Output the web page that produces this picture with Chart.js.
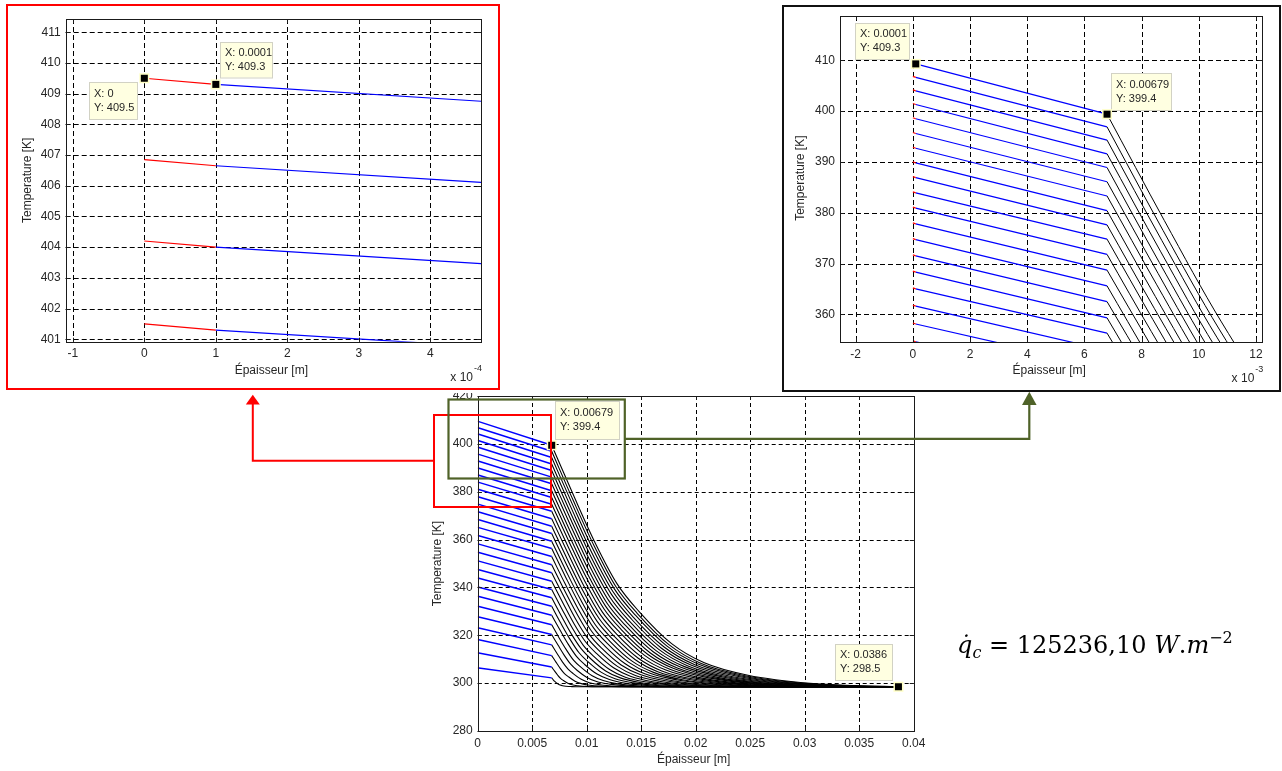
<!DOCTYPE html>
<html><head><meta charset="utf-8">
<script src="https://cdn.jsdelivr.net/npm/chart.js@4.4.0/dist/chart.umd.min.js"></script>
<style>
html,body{margin:0;padding:0;background:#fff;}
body{width:1282px;height:771px;position:relative;overflow:hidden;font-family:'Liberation Sans',Arial,sans-serif;}
canvas{position:absolute;background:#fff;}
#cMain{left:400px;top:380px;}
#cLeft{left:0;top:0;}
#cRight{left:780px;top:0;}
svg{position:absolute;left:0;top:0;}
#eq{position:absolute;left:957px;top:626px;font-family:'DejaVu Serif',serif;font-size:24px;line-height:24px;color:#000;white-space:nowrap;}
#eq .v{font-style:italic;}
#eq sub{font-size:16px;vertical-align:-5px;}
#eq sup{font-size:16px;vertical-align:10px;}
</style></head>
<body>
<canvas id="cMain" width="540" height="391"></canvas>
<canvas id="cLeft" width="500" height="393"></canvas>
<canvas id="cRight" width="502" height="395"></canvas>
<svg width="1282" height="771">
  <rect x="7" y="5" width="492" height="384" fill="none" stroke="#ff0000" stroke-width="2"/>
  <rect x="783" y="6" width="497" height="385" fill="none" stroke="#111" stroke-width="2"/>
  <rect x="434" y="415" width="117" height="92" fill="none" stroke="#ff0000" stroke-width="2"/>
  <rect x="448.5" y="399.5" width="176.3" height="79" fill="none" stroke="#4f6228" stroke-width="2.2"/>
  <polyline points="434,460.7 252.8,460.7 252.8,403" fill="none" stroke="#ff0000" stroke-width="2"/>
  <polygon points="252.8,394.7 245.8,404.5 259.8,404.5" fill="#ff0000"/>
  <polyline points="625,438.8 1029.3,438.8 1029.3,404" fill="none" stroke="#4f6228" stroke-width="2.2"/>
  <polygon points="1029.3,391.7 1022,405 1036.6,405" fill="#4f6228"/>
</svg>
<div id="eq"><span class="v">q&#775;</span><sub class="v">c</sub> = 125236,10 <span class="v">W</span>.<span class="v">m</span><sup>&#8722;2</sup></div>
<script>
// ---- data ----
const layerX = 0.0001;      // end of red layer [m]
const interfaceX = 0.00679; // end of blue layer [m]

// temperature at x = 0 for each curve [K]
const surfaceT = [409.5, 406.85, 404.2, 401.5, 398.7, 395.8, 392.9, 390.0, 387.1, 384.1,
  381.1, 378.0, 374.9, 371.7, 368.5, 365.2, 361.8, 358.3, 354.8, 351.2,
  347.6, 344.0, 340.3, 336.4, 332.2, 327.8, 323.2, 318.2, 312.7, 306.4];
// temperature at x = 0.0001
const layerT = [409.3, 406.65, 404.0, 401.3, 398.5, 395.6, 392.7, 389.8, 386.9, 383.9,
  380.9, 377.8, 374.7, 371.5, 368.3, 365.0, 361.6, 358.1, 354.6, 351.0,
  347.4, 343.8, 340.1, 336.2, 332.0, 327.6, 323.05, 318.1, 312.6, 306.3];
// temperature at x = 0.00679
const interfaceT = [399.4, 396.9, 394.3, 391.6, 388.9, 386.1, 383.3, 380.4, 377.6, 374.8,
  371.8, 368.7, 365.6, 362.5, 359.3, 356.3, 352.9, 349.5, 346.1, 342.6,
  339.1, 335.7, 332.1, 328.4, 324.4, 320.3, 316.0, 311.5, 306.7, 302.2];
// black part: positions [mm] and temperatures [K]
const tailXmm = [
  [8.79,10.79,12.79,14.79,17.79,20.79,24.79,30.79,34.7,38.6],
  [8.75,10.71,12.67,14.63,17.57,20.51,24.43,30.31,37.96,38.6],
  [8.71,10.63,12.55,14.47,17.34,20.22,24.06,29.82,37.30,38.6],
  [8.67,10.54,12.42,14.29,17.10,19.92,23.67,29.29,36.61,38.6],
  [8.62,10.45,12.29,14.12,16.86,19.61,23.28,28.77,35.91,38.6],
  [8.58,10.36,12.15,13.94,16.61,19.29,22.87,28.22,35.19,38.6],
  [8.53,10.27,12.01,13.75,16.36,18.97,22.45,27.67,34.46,38.6],
  [8.48,10.18,11.87,13.56,16.10,18.64,22.02,27.10,33.70,38.6],
  [8.44,10.08,11.73,13.37,15.84,18.31,21.60,26.54,32.96,38.6],
  [8.39,9.99,11.59,13.19,15.59,17.99,21.18,25.98,32.22,38.6],
  [8.34,9.89,11.44,12.99,15.31,17.63,20.73,25.38,31.42,38.6],
  [8.29,9.78,11.28,12.77,15.02,17.26,20.26,24.74,30.58,38.6],
  [8.23,9.68,11.12,12.56,14.73,16.89,19.78,24.11,29.73,38.6],
  [8.18,9.57,10.96,12.35,14.43,16.52,19.30,23.46,28.88,38.6],
  [8.12,9.46,10.79,12.13,14.13,16.13,18.79,22.79,28.00,38.6],
  [8.07,9.35,10.63,11.91,13.83,15.75,18.32,22.16,27.15,38.6],
  [8.01,9.23,10.45,11.67,13.50,15.33,17.77,21.43,26.19,38.6],
  [7.95,9.11,10.27,11.42,13.16,14.90,17.22,20.69,25.21,38.6],
  [7.89,8.98,10.08,11.18,12.82,14.47,16.66,19.95,24.23,38.6],
  [7.82,8.85,9.89,10.92,12.46,14.01,16.07,19.17,23.19,38.6],
  [7.76,8.72,9.69,10.65,12.10,13.55,15.48,18.38,22.14,38.6],
  [7.69,8.59,9.49,10.39,11.74,13.09,14.89,17.59,21.10,38.6],
  [7.62,8.45,9.28,10.11,11.35,12.60,14.26,16.75,19.98,38.6],
  [7.55,8.30,9.06,9.81,10.95,12.08,13.59,15.86,18.81,38.6],
  [7.46,8.14,8.81,9.49,10.50,11.51,12.86,14.88,17.51,38.6],
  [7.38,7.96,8.55,9.14,10.02,10.90,12.08,13.84,16.13,38.6],
  [7.28,7.77,8.27,8.76,9.50,10.24,11.22,12.70,14.62,38.6],
  [7.18,7.57,7.96,8.34,8.93,9.51,10.28,11.45,12.96,38.6],
  [7.06,7.33,7.60,7.86,8.27,8.67,9.21,10.01,11.06,38.6],
  [6.93,7.07,7.22,7.36,7.57,7.79,8.07,8.50,9.05,38.6]
];
const tailT = [
  [378.5,358.5,341.5,330.0,316.5,308.5,303.3,299.8,299.0,298.5],
  [376.5,357.1,340.4,329.2,316.0,308.2,303.2,299.8,298.5,298.5],
  [374.5,355.5,339.3,328.4,315.6,308.0,303.1,299.7,298.5,298.5],
  [372.3,353.9,338.2,327.5,315.1,307.7,303.0,299.7,298.5,298.5],
  [370.2,352.3,337.0,326.7,314.6,307.5,302.8,299.7,298.5,298.5],
  [368.0,350.6,335.8,325.8,314.1,307.2,302.7,299.6,298.5,298.5],
  [365.8,349.0,334.6,325.0,313.6,306.9,302.6,299.6,298.5,298.5],
  [363.5,347.2,333.4,324.1,313.1,306.6,302.4,299.6,298.5,298.5],
  [361.2,345.6,332.2,323.2,312.6,306.3,302.3,299.5,298.5,298.5],
  [359.0,343.9,331.0,322.3,312.1,306.1,302.2,299.5,298.5,298.5],
  [356.6,342.1,329.7,321.4,311.6,305.8,302.0,299.5,298.5,298.5],
  [354.2,340.3,328.4,320.4,311.0,305.5,301.9,299.4,298.5,298.5],
  [351.7,338.4,327.1,319.4,310.4,305.1,301.7,299.4,298.5,298.5],
  [349.3,336.6,325.8,318.5,309.9,304.8,301.6,299.3,298.5,298.5],
  [346.7,334.7,324.4,317.5,309.3,304.5,301.4,299.3,298.5,298.5],
  [344.3,332.9,323.1,316.5,308.8,304.2,301.3,299.3,298.5,298.5],
  [341.6,330.9,321.7,315.5,308.2,303.9,301.1,299.2,298.5,298.5],
  [338.9,328.9,320.2,314.4,307.6,303.6,301.0,299.2,298.5,298.5],
  [336.3,326.8,318.8,313.4,307.0,303.2,300.8,299.1,298.5,298.5],
  [333.5,324.7,317.3,312.3,306.4,302.9,300.6,299.1,298.5,298.5],
  [330.7,322.7,315.8,311.2,305.7,302.5,300.5,299.0,298.5,298.5],
  [328.0,320.6,314.4,310.1,305.1,302.2,300.3,299.0,298.5,298.5],
  [325.1,318.5,312.8,309.0,304.5,301.8,300.1,298.9,298.5,298.5],
  [322.2,316.3,311.2,307.8,303.8,301.5,299.9,298.9,298.5,298.5],
  [319.0,313.9,309.5,306.6,303.1,301.1,299.7,298.8,298.5,298.5],
  [315.8,311.5,307.8,305.3,302.4,300.7,299.6,298.8,298.5,298.5],
  [312.4,308.9,306.0,304.0,301.6,300.2,299.3,298.7,298.5,298.5],
  [308.8,306.2,304.0,302.6,300.8,299.8,299.1,298.7,298.5,298.5],
  [305.0,303.4,302.0,301.1,300.0,299.3,298.9,298.6,298.5,298.5],
  [301.4,300.7,300.1,299.7,299.2,298.9,298.7,298.6,298.5,298.5]
];

// tick values and labels
const mainXTicks = [0, 0.005, 0.01, 0.015, 0.02, 0.025, 0.03, 0.035, 0.04];
const mainXLabels = ['0', '0.005', '0.01', '0.015', '0.02', '0.025', '0.03', '0.035', '0.04'];
const mainYTicks = [280, 300, 320, 340, 360, 380, 400, 420];
const mainYLabels = ['280', '300', '320', '340', '360', '380', '400', '420'];
const leftXTicks = [-0.0001, 0, 0.0001, 0.0002, 0.0003, 0.0004];
const leftXLabels = ['-1', '0', '1', '2', '3', '4'];
const leftYTicks = [401, 402, 403, 404, 405, 406, 407, 408, 409, 410, 411];
const leftYLabels = ['401', '402', '403', '404', '405', '406', '407', '408', '409', '410', '411'];
const rightXTicks = [-0.002, 0, 0.002, 0.004, 0.006, 0.008, 0.010, 0.012];
const rightXLabels = ['-2', '0', '2', '4', '6', '8', '10', '12'];
const rightYTicks = [360, 370, 380, 390, 400, 410];
const rightYLabels = ['360', '370', '380', '390', '400', '410'];

// data tips
const mainTipX = [0.00679, 0.0386];
const mainTipY = [399.4, 298.5];
const leftTipX = [0, 0.0001];
const leftTipY = [409.5, 409.3];
const rightTipX = [0.0001, 0.00679];
const rightTipY = [409.3, 399.4];

// ---- drawing ----
const FONT = '"Liberation Sans", Arial, sans-serif';
Chart.defaults.font.family = FONT;
Chart.defaults.font.size = 12;
Chart.defaults.color = '#262626';

function buildDatasets(lwColor, lwBlack) {
  const ds = [];
  for (let i = 0; i < surfaceT.length; i++) {
    const common = {pointRadius: 0, fill: false, clip: 0};
    ds.push(Object.assign({data: [{x: 0, y: surfaceT[i]}, {x: layerX, y: layerT[i]}], borderColor: '#ff0000', borderWidth: lwColor}, common));
    ds.push(Object.assign({data: [{x: layerX, y: layerT[i]}, {x: interfaceX, y: interfaceT[i]}], borderColor: '#0000ff', borderWidth: lwColor}, common));
    const tail = [{x: interfaceX, y: interfaceT[i]}];
    tailXmm[i].forEach((v, j) => tail.push({x: v / 1000, y: tailT[i][j]}));
    ds.push(Object.assign({data: tail, borderColor: '#000000', borderWidth: lwBlack, cubicInterpolationMode: 'monotone'}, common));
  }
  return ds;
}

function scaleCfg(min, max, ticks, labels, size, isX) {
  return {
    type: 'linear', min: min, max: max,
    grid: {display: false, drawTicks: false},
    border: {display: false},
    afterBuildTicks: a => { a.ticks = ticks.map(v => ({value: v})); },
    afterFit: a => { if (isX) a.height = size; else a.width = size; },
    ticks: {autoSkip: false, maxRotation: 0, minRotation: 0, padding: 5, color: '#262626',
      font: {size: 12, family: FONT}, callback: (v, i) => labels[i]}
  };
}

function decoPlugin(s) {
  return {
    id: 'deco',
    beforeDatasetsDraw(chart) {
      const ctx = chart.ctx, a = chart.chartArea, x = chart.scales.x, y = chart.scales.y;
      ctx.save();
      ctx.strokeStyle = '#000'; ctx.lineWidth = 1; ctx.setLineDash(s.dash);
      ctx.beginPath();
      s.xTicks.forEach(v => { const p = Math.round(x.getPixelForValue(v)) + 0.5; ctx.moveTo(p, a.top); ctx.lineTo(p, a.bottom); });
      s.yTicks.forEach(v => { const p = Math.round(y.getPixelForValue(v)) + 0.5; ctx.moveTo(a.left, p); ctx.lineTo(a.right, p); });
      ctx.stroke();
      ctx.restore();
    },
    afterDatasetsDraw(chart) {
      const ctx = chart.ctx, a = chart.chartArea, x = chart.scales.x, y = chart.scales.y;
      ctx.save();
      ctx.setLineDash([]);
      ctx.strokeStyle = '#1a1a1a'; ctx.lineWidth = 1;
      ctx.strokeRect(Math.round(a.left) + 0.5, Math.round(a.top) + 0.5, Math.round(a.right - a.left), Math.round(a.bottom - a.top));
      ctx.beginPath();
      const tl = s.tickLen;
      s.xTicks.forEach(v => { const p = Math.round(x.getPixelForValue(v)) + 0.5;
        ctx.moveTo(p, a.bottom); ctx.lineTo(p, a.bottom - tl); ctx.moveTo(p, a.top); ctx.lineTo(p, a.top + tl); });
      s.yTicks.forEach(v => { const p = Math.round(y.getPixelForValue(v)) + 0.5;
        ctx.moveTo(a.left, p); ctx.lineTo(a.left + tl, p); ctx.moveTo(a.right, p); ctx.lineTo(a.right - tl, p); });
      ctx.stroke();
      // axis titles
      ctx.fillStyle = '#262626'; ctx.font = '12px ' + FONT;
      ctx.textAlign = 'center'; ctx.textBaseline = 'middle';
      ctx.fillText('\u00c9paisseur [m]', (a.left + a.right) / 2 + s.xTitle[0], a.bottom + s.xTitle[1]);
      ctx.save();
      ctx.translate(a.left - s.yTitle[0], (a.top + a.bottom) / 2 + s.yTitle[1]);
      ctx.rotate(-Math.PI / 2);
      ctx.fillText('Temperature [K]', 0, 0);
      ctx.restore();
      if (s.exp) {
        ctx.textAlign = 'right';
        ctx.fillText('x 10', a.right - 8, a.bottom + 36);
        ctx.font = '9px ' + FONT; ctx.textAlign = 'left';
        ctx.fillText(s.exp, a.right - 7, a.bottom + 27);
      }
      // data tips
      s.tips.forEach(t => {
        const px = x.getPixelForValue(t.x), py = y.getPixelForValue(t.y);
        const bx = Math.round(px + t.dx), by = Math.round(py + t.dy);
        ctx.fillStyle = '#ffffe1';
        ctx.fillRect(bx, by, t.w, t.h);
        ctx.strokeStyle = '#d2d2c4'; ctx.lineWidth = 1;
        ctx.strokeRect(bx + 0.5, by + 0.5, t.w, t.h);
        ctx.fillStyle = '#262626'; ctx.font = '11px ' + FONT;
        ctx.textAlign = 'left'; ctx.textBaseline = 'middle';
        ctx.fillText('X: ' + t.x, bx + 5, by + t.h * 0.31);
        ctx.fillText('Y: ' + t.y, bx + 5, by + t.h * 0.69);
        ctx.fillStyle = '#ffffc4';
        ctx.fillRect(px - 5, py - 5, 10, 10);
        ctx.fillStyle = '#000';
        ctx.fillRect(px - 3.5, py - 3.5, 7, 7);
      });
      ctx.restore();
    }
  };
}

function makeChart(id, o) {
  const cv = document.getElementById(id);
  const W = cv.width, H = cv.height, A = o.area;
  new Chart(cv, {
    type: 'line',
    data: {datasets: buildDatasets(o.lw[0], o.lw[1])},
    options: {
      responsive: false, animation: false, devicePixelRatio: 1,
      layout: {padding: {left: 0, top: A[1], right: W - A[2], bottom: 0}},
      plugins: {legend: {display: false}, tooltip: {enabled: false}},
      scales: {
        x: scaleCfg(o.xr[0], o.xr[1], o.xt, o.xl, H - A[3], true),
        y: scaleCfg(o.yr[0], o.yr[1], o.yt, o.yl, A[0], false)
      }
    },
    plugins: [decoPlugin({xTicks: o.xt, yTicks: o.yt, dash: o.dash, tickLen: 4,
      xTitle: o.xTitle, yTitle: o.yTitle, exp: o.exp, tips: o.tips})]
  });
}

function tips(xs, ys, boxes) {
  return xs.map((v, i) => ({x: v, y: ys[i], dx: boxes[i][0], dy: boxes[i][1], w: boxes[i][2], h: boxes[i][3]}));
}

makeChart('cMain', {
  area: [77.7, 16, 513.7, 351], lw: [1.5, 1.1],
  xr: [0, 0.04], yr: [280, 420],
  xt: mainXTicks, xl: mainXLabels, yt: mainYTicks, yl: mainYLabels,
  dash: [4, 3], xTitle: [-2, 29], yTitle: [40, 0], exp: null,
  tips: tips(mainTipX, mainTipY, [[3.5, -44.5, 64, 38], [-63.5, -42.5, 57, 36]])
});
makeChart('cLeft', {
  area: [65.7, 19, 481, 341.7], lw: [1.2, 1],
  xr: [-0.00011, 0.000471], yr: [400.92, 411.43],
  xt: leftXTicks, xl: leftXLabels, yt: leftYTicks, yl: leftYLabels,
  dash: [5, 3], xTitle: [-2, 28.5], yTitle: [38, 0], exp: '-4',
  tips: tips(leftTipX, leftTipY, [[-55, 3.5, 48, 37], [4.5, -42, 52, 35.5]])
});
makeChart('cRight', {
  area: [60, 16, 482.3, 342.3], lw: [1.2, 1],
  xr: [-0.002549, 0.01222], yr: [354.49, 418.73],
  xt: rightXTicks, xl: rightXLabels, yt: rightYTicks, yl: rightYLabels,
  dash: [5, 3], xTitle: [-2, 28], yTitle: [39, -1], exp: '-3',
  tips: tips(rightTipX, rightTipY, [[-61, -41, 54, 36], [4, -41, 60, 37]])
});
</script>
</body></html>
